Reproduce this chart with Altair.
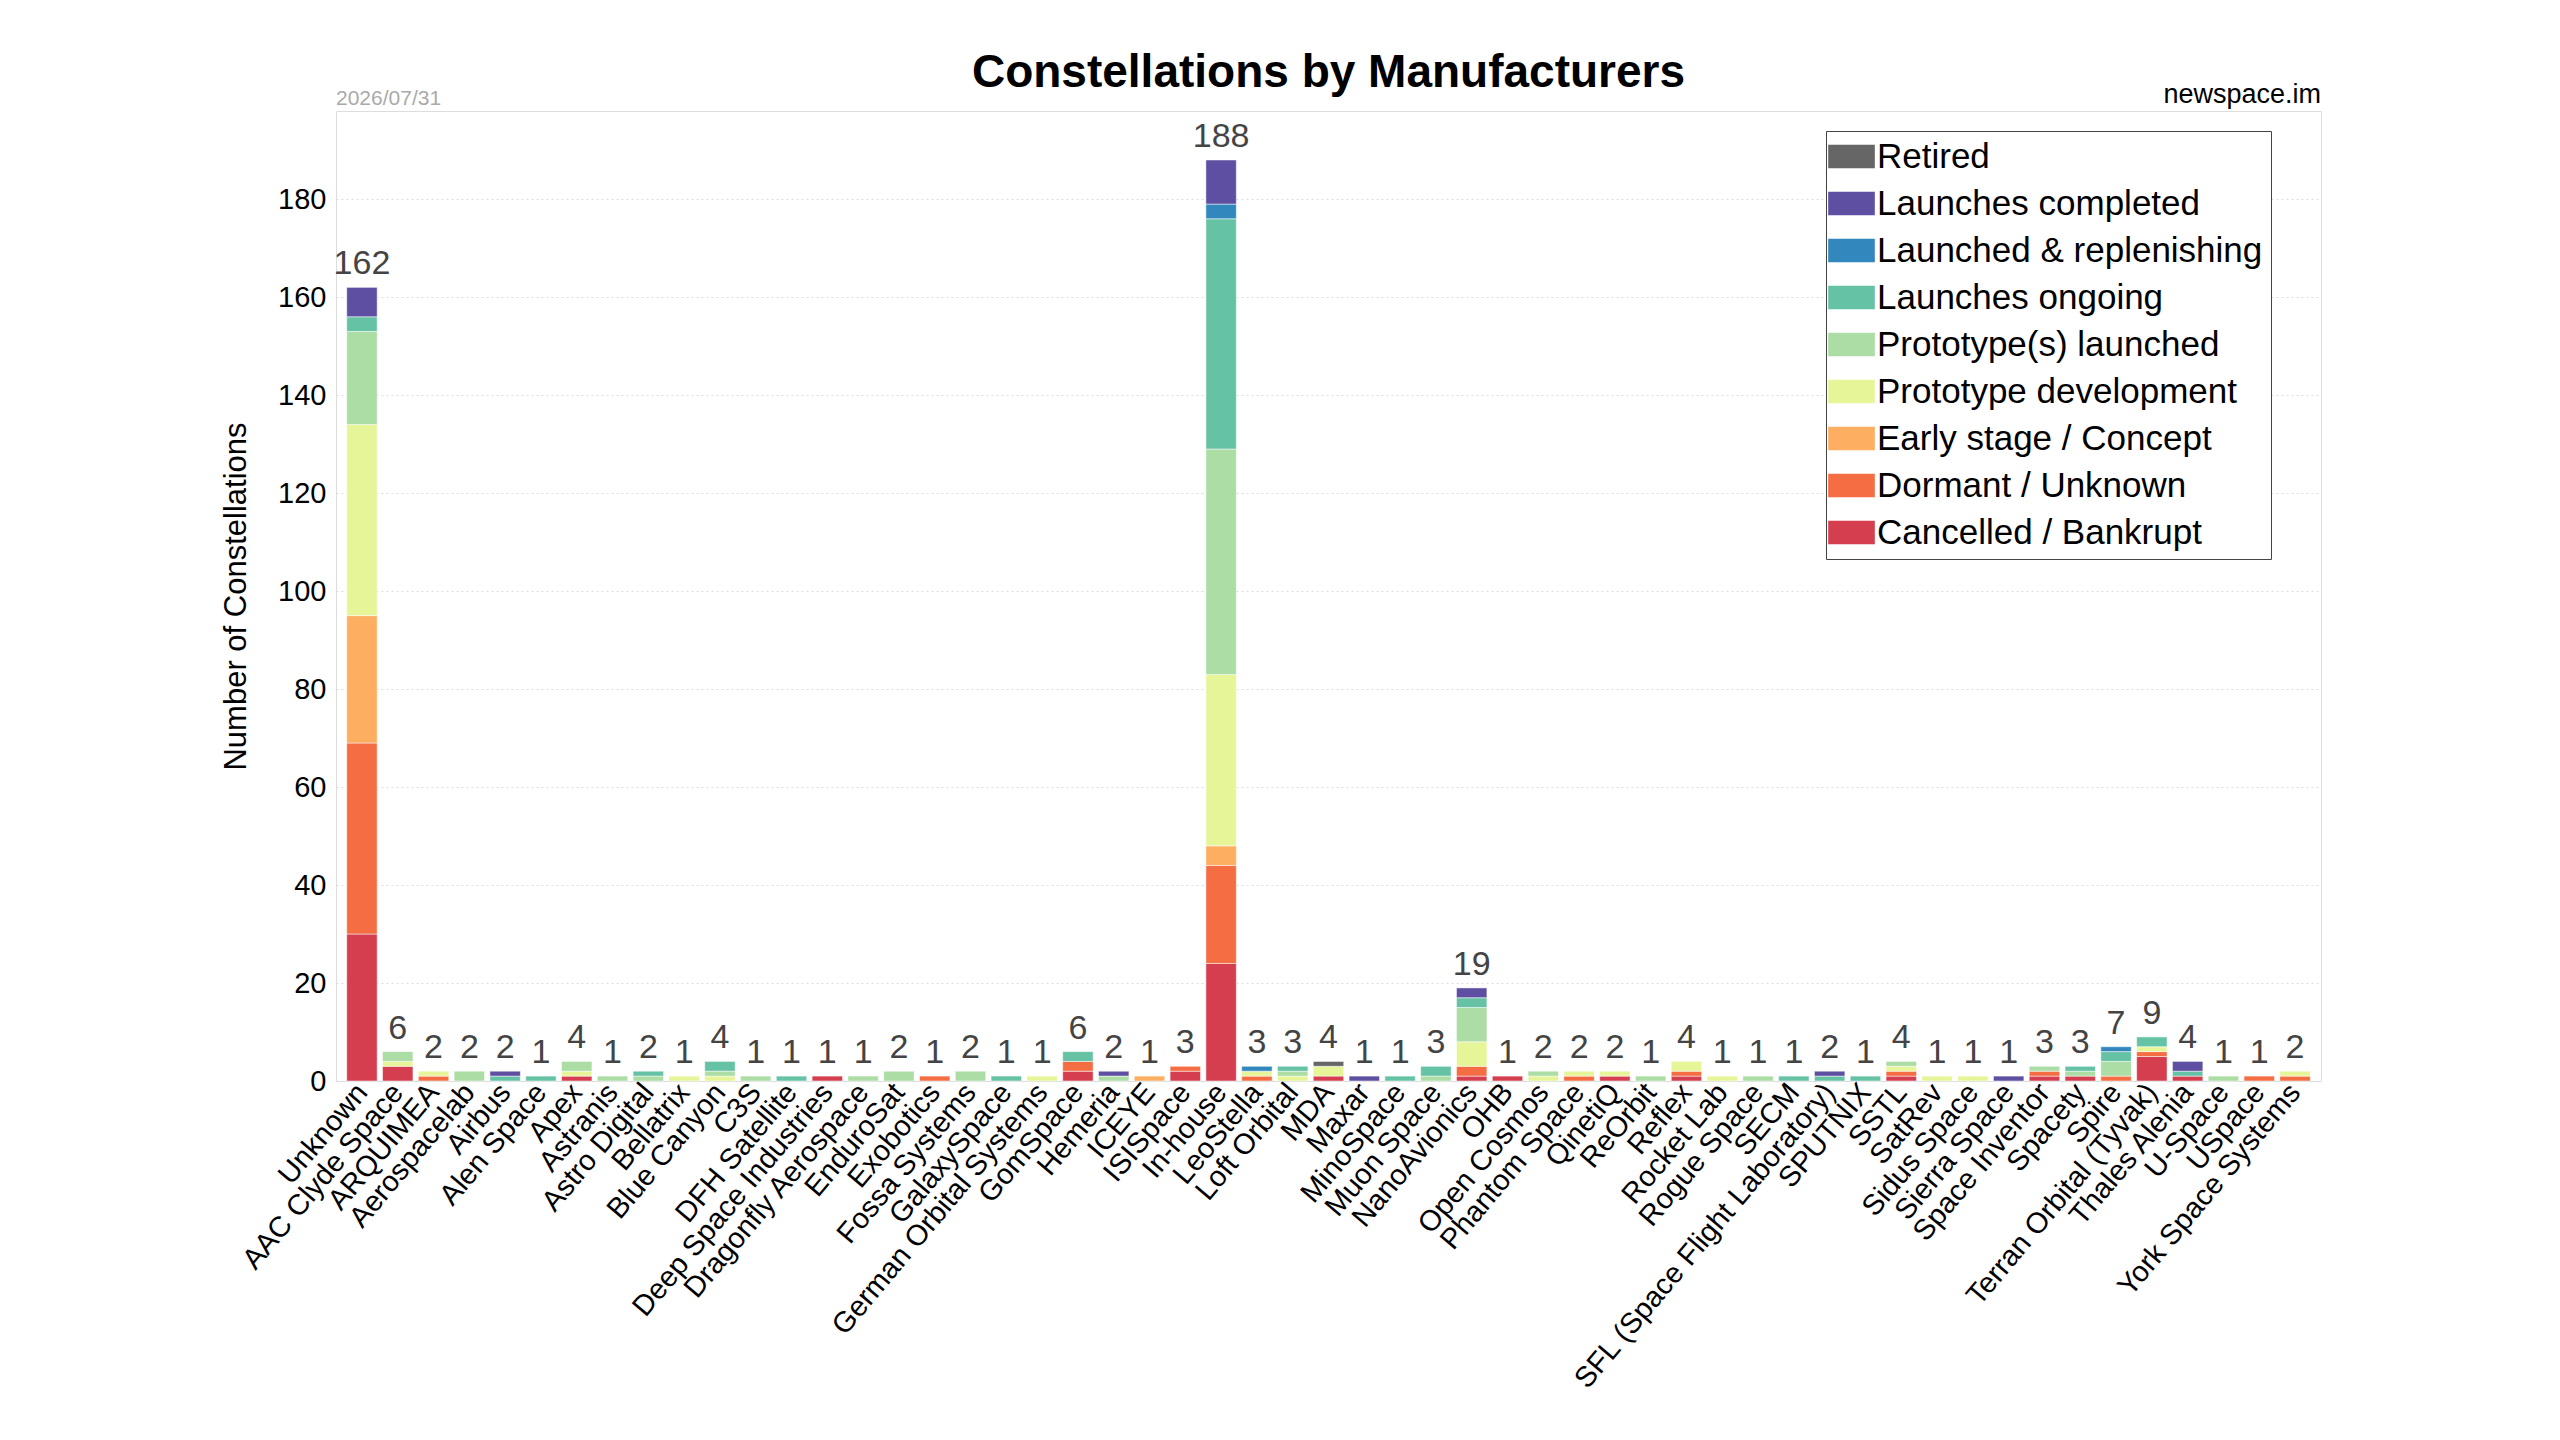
import altair as alt
import pandas as pd

statuses = ["Cancelled / Bankrupt", "Dormant / Unknown", "Early stage / Concept",
            "Prototype development", "Prototype(s) launched", "Launches ongoing",
            "Launched & replenishing", "Launches completed", "Retired"]
colors = ["#d53e4f", "#f46d43", "#fdae61", "#e6f598", "#abdda4", "#66c2a5",
          "#3288bd", "#5e4fa2", "#666666"]

# counts per status, in order of `statuses`
manufacturers = [
    ("Unknown", [30, 39, 26, 39, 19, 3, 0, 6, 0]),
    ("AAC Clyde Space", [3, 0, 0, 1, 2, 0, 0, 0, 0]),
    ("ARQUIMEA", [0, 1, 0, 1, 0, 0, 0, 0, 0]),
    ("Aerospacelab", [0, 0, 0, 0, 2, 0, 0, 0, 0]),
    ("Airbus", [0, 0, 0, 0, 0, 1, 0, 1, 0]),
    ("Alen Space", [0, 0, 0, 0, 0, 1, 0, 0, 0]),
    ("Apex", [1, 0, 0, 1, 2, 0, 0, 0, 0]),
    ("Astranis", [0, 0, 0, 0, 1, 0, 0, 0, 0]),
    ("Astro Digital", [0, 0, 0, 0, 1, 1, 0, 0, 0]),
    ("Bellatrix", [0, 0, 0, 1, 0, 0, 0, 0, 0]),
    ("Blue Canyon", [0, 0, 0, 1, 1, 2, 0, 0, 0]),
    ("C3S", [0, 0, 0, 0, 1, 0, 0, 0, 0]),
    ("DFH Satellite", [0, 0, 0, 0, 0, 1, 0, 0, 0]),
    ("Deep Space Industries", [1, 0, 0, 0, 0, 0, 0, 0, 0]),
    ("Dragonfly Aerospace", [0, 0, 0, 0, 1, 0, 0, 0, 0]),
    ("EnduroSat", [0, 0, 0, 0, 2, 0, 0, 0, 0]),
    ("Exobotics", [0, 1, 0, 0, 0, 0, 0, 0, 0]),
    ("Fossa Systems", [0, 0, 0, 0, 2, 0, 0, 0, 0]),
    ("GalaxySpace", [0, 0, 0, 0, 0, 1, 0, 0, 0]),
    ("German Orbital Systems", [0, 0, 0, 1, 0, 0, 0, 0, 0]),
    ("GomSpace", [2, 2, 0, 0, 0, 2, 0, 0, 0]),
    ("Hemeria", [0, 0, 0, 0, 1, 0, 0, 1, 0]),
    ("ICEYE", [0, 0, 1, 0, 0, 0, 0, 0, 0]),
    ("ISISpace", [2, 1, 0, 0, 0, 0, 0, 0, 0]),
    ("In-house", [24, 20, 4, 35, 46, 47, 3, 9, 0]),
    ("LeoStella", [0, 1, 0, 1, 0, 0, 1, 0, 0]),
    ("Loft Orbital", [0, 0, 0, 1, 1, 1, 0, 0, 0]),
    ("MDA", [1, 0, 0, 2, 0, 0, 0, 0, 1]),
    ("Maxar", [0, 0, 0, 0, 0, 0, 0, 1, 0]),
    ("MinoSpace", [0, 0, 0, 0, 0, 1, 0, 0, 0]),
    ("Muon Space", [0, 0, 0, 0, 1, 2, 0, 0, 0]),
    ("NanoAvionics", [1, 2, 0, 5, 7, 2, 0, 2, 0]),
    ("OHB", [1, 0, 0, 0, 0, 0, 0, 0, 0]),
    ("Open Cosmos", [0, 0, 0, 1, 1, 0, 0, 0, 0]),
    ("Phantom Space", [0, 1, 0, 1, 0, 0, 0, 0, 0]),
    ("QinetiQ", [1, 0, 0, 1, 0, 0, 0, 0, 0]),
    ("ReOrbit", [0, 0, 0, 0, 1, 0, 0, 0, 0]),
    ("Reflex", [1, 1, 0, 2, 0, 0, 0, 0, 0]),
    ("Rocket Lab", [0, 0, 0, 1, 0, 0, 0, 0, 0]),
    ("Rogue Space", [0, 0, 0, 0, 1, 0, 0, 0, 0]),
    ("SECM", [0, 0, 0, 0, 0, 1, 0, 0, 0]),
    ("SFL (Space Flight Laboratory)", [0, 0, 0, 0, 0, 1, 0, 1, 0]),
    ("SPUTNIX", [0, 0, 0, 0, 0, 1, 0, 0, 0]),
    ("SSTL", [1, 1, 0, 1, 1, 0, 0, 0, 0]),
    ("SatRev", [0, 0, 0, 1, 0, 0, 0, 0, 0]),
    ("Sidus Space", [0, 0, 0, 1, 0, 0, 0, 0, 0]),
    ("Sierra Space", [0, 0, 0, 0, 0, 0, 0, 1, 0]),
    ("Space Inventor", [1, 1, 0, 0, 1, 0, 0, 0, 0]),
    ("Spacety", [1, 0, 0, 0, 1, 1, 0, 0, 0]),
    ("Spire", [0, 1, 0, 0, 3, 2, 1, 0, 0]),
    ("Terran Orbital (Tyvak)", [5, 1, 0, 1, 0, 2, 0, 0, 0]),
    ("Thales Alenia", [1, 0, 0, 0, 0, 1, 0, 2, 0]),
    ("U-Space", [0, 0, 0, 0, 1, 0, 0, 0, 0]),
    ("USpace", [0, 1, 0, 0, 0, 0, 0, 0, 0]),
    ("York Space Systems", [0, 1, 0, 1, 0, 0, 0, 0, 0]),
]

names = [m for m, _ in manufacturers]
rows = []
for m, counts in manufacturers:
    for i, (s, c) in enumerate(zip(statuses, counts)):
        if c > 0:
            rows.append({"Manufacturer": m, "Status": s, "Count": c, "order": i})
df = pd.DataFrame(rows)
totals = pd.DataFrame({"Manufacturer": names, "Total": [sum(c) for _, c in manufacturers]})
one = pd.DataFrame({"a": [0]})

font = "Liberation Sans"
W = 1985
xenc = alt.X("Manufacturer:N", sort=names, title=None,
             scale=alt.Scale(paddingInner=0.15, paddingOuter=0.3),
             axis=alt.Axis(labelAngle=-50, labelFontSize=29, labelColor="#000", ticks=False,
                           domain=False, labelPadding=6, labelLimit=800))

bars = alt.Chart(df).mark_bar(stroke="white", strokeWidth=0.5).encode(
    x=xenc,
    y=alt.Y("Count:Q", stack="zero", title="Number of Constellations",
            scale=alt.Scale(domain=[0, 198], nice=False),
            axis=alt.Axis(values=list(range(0, 200, 20)), labelFontSize=29, titleFontSize=31,
                          titleFontWeight="normal", labelColor="#000", titleColor="#000",
                          gridDash=[2, 3], gridColor="#ddd", ticks=False, domain=False,
                          labelPadding=10, titlePadding=25)),
    color=alt.Color("Status:N", scale=alt.Scale(domain=statuses[::-1], range=colors[::-1]),
                    legend=alt.Legend(title=None, orient="none", legendX=1490, legendY=20,
                                      labelFontSize=35, labelFont=font, labelColor="#000",
                                      symbolType="M-1.6,-0.8H1.6V0.8H-1.6Z", symbolSize=850,
                                      symbolOpacity=1, symbolStrokeWidth=0,
                                      strokeColor="#444", padding=8, labelOffset=8,
                                      rowPadding=11, fillColor="white", labelLimit=600)),
    order=alt.Order("order:Q"),
)

labels = alt.Chart(totals).mark_text(dy=-6, baseline="bottom", fontSize=34, color="#444",
                                     font=font).encode(
    x=alt.X("Manufacturer:N", sort=names), y="Total:Q", text="Total:Q")

date = alt.Chart(one).mark_text(align="left", baseline="bottom", fontSize=21, color="#aaa",
                                font=font).encode(
    x=alt.value(0), y=alt.value(-2), text=alt.value("2026/07/31"))
site = alt.Chart(one).mark_text(align="right", baseline="bottom", fontSize=27, color="#000",
                                font=font).encode(
    x=alt.value(W), y=alt.value(-2), text=alt.value("newspace.im"))

chart = alt.layer(bars, labels, date, site).properties(
    width=W, height=970,
    title=alt.TitleParams("Constellations by Manufacturers", fontSize=46, font=font,
                          fontWeight="bold", color="#000", offset=-16),
    padding={"left": 212, "top": 42, "right": 200, "bottom": 10},
).configure_view(stroke="#666", strokeWidth=1.5).configure(font=font)

chart.save("out.html", embed_options={"renderer": "svg", "actions": False})
